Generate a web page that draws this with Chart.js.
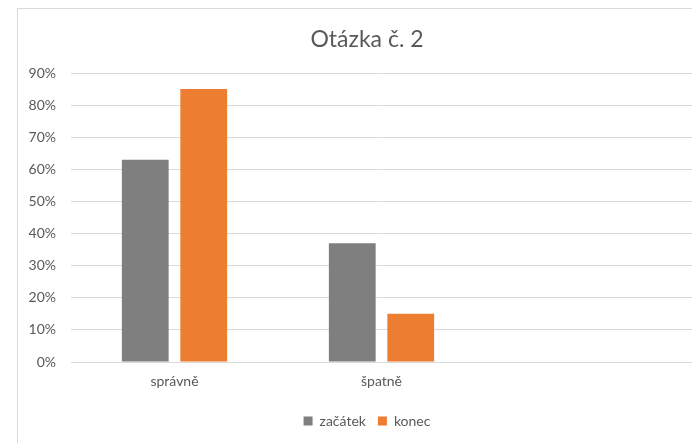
<!DOCTYPE html>
<html>
<head>
<meta charset="utf-8">
<script src="https://cdn.jsdelivr.net/npm/chart.js@4"></script>
<style>
  html, body { margin: 0; padding: 0; background: #fff; overflow: hidden; }
  body { width: 692px; height: 443px; position: relative; }
  #box {
    position: absolute; left: 17px; top: 8px;
    width: 698px; height: 440px;
    border: 1px solid #d9d9d9;
  }
</style>
</head>
<body>
<div id="box"><canvas id="chart" width="698" height="440"></canvas></div>
<script>
// Chart data
const categories = ['správně', 'špatně', ''];
const seriesNames = ['začátek', 'konec'];
const startValues = [63, 37];
const endValues = [85, 15];
const yTicks = [0, 10, 20, 30, 40, 50, 60, 70, 80, 90];

const TEXT = '#595959';
const GRID = '#d9d9d9';
const FONT = 'Lato, "Open Sans", sans-serif';

const ctx = document.getElementById('chart').getContext('2d');

new Chart(ctx, {
    type: 'bar',
    data: {
        labels: categories,
        datasets: [
            {
                label: seriesNames[0],
                data: startValues,
                backgroundColor: '#7f7f7f',
                categoryPercentage: 0.565,
                barPercentage: 0.8
            },
            {
                label: seriesNames[1],
                data: endValues,
                backgroundColor: '#ed7d31',
                categoryPercentage: 0.565,
                barPercentage: 0.8
            }
        ]
    },
    options: {
        responsive: false,
        animation: false,
        layout: { padding: { left: 0, right: 0, top: 0, bottom: 11 } },
        scales: {
            x: {
                grid: { display: false, drawTicks: false },
                border: { display: false },
                ticks: { color: TEXT, font: { family: FONT, size: 14 }, padding: 11 },
                afterFit: (scale) => { scale.height = 40; }
            },
            y: {
                min: yTicks[0],
                max: yTicks[yTicks.length - 1],
                afterBuildTicks: (scale) => { scale.ticks = yTicks.map(v => ({ value: v })); },
                grid: { color: GRID, lineWidth: 1, drawTicks: false },
                border: { display: false },
                ticks: {
                    color: TEXT,
                    font: { family: FONT, size: 14 },
                    padding: 15,
                    callback: (v) => v + '%'
                },
                afterFit: (scale) => { scale.width = 53; }
            },
            // empty right-hand margin so title and legend stay centred on the whole box
            gap: {
                type: 'linear',
                position: 'right',
                grid: { display: false, drawTicks: false },
                border: { display: false },
                ticks: { display: false },
                afterFit: (scale) => { scale.width = 24; }
            }
        },
        plugins: {
            title: {
                display: true,
                text: 'Otázka č. 2',
                color: TEXT,
                font: { family: FONT, size: 23, weight: 'normal' },
                padding: { top: 17, bottom: 19.4 }
            },
            legend: {
                position: 'bottom',
                labels: {
                    color: TEXT,
                    font: { family: FONT, size: 14 },
                    boxWidth: 9,
                    boxHeight: 9,
                    padding: 12
                }
            },
            tooltip: { enabled: false }
        }
    }
});
</script>
</body>
</html>
